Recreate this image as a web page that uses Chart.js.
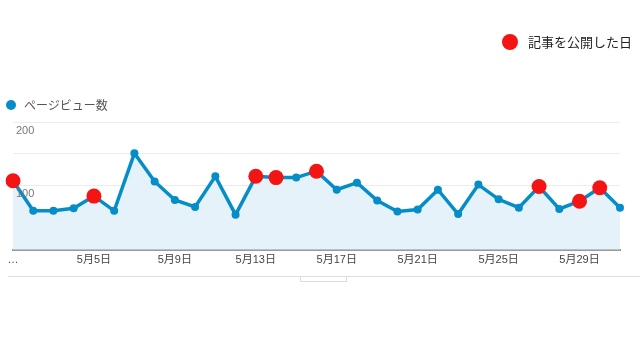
<!DOCTYPE html>
<html>
<head>
<meta charset="utf-8">
<script src="https://cdn.jsdelivr.net/npm/chart.js@4"></script>
<style>
  html, body { margin: 0; padding: 0; background: #fff; }
  #wrap { position: relative; width: 640px; height: 360px; }
  .legend { position: absolute; font-family: Arial, "Liberation Sans", "Noto Sans CJK JP", sans-serif; display: flex; align-items: center; white-space: nowrap; }
  .dot { display: inline-block; border-radius: 50%; }
</style>
</head>
<body>
<div id="wrap">
  <canvas id="pvChart" width="640" height="360"></canvas>
  <div class="legend" style="left:6px; top:96px; font-size:12px; color:#555;">
    <span class="dot" style="width:10px;height:10px;background:#058dc7;margin-right:8px;"></span>ページビュー数
  </div>
  <div class="legend" style="left:502px; top:32px; font-size:13px; color:#222;">
    <span class="dot" style="width:16px;height:16px;background:#f41414;margin-right:10px;"></span>記事を公開した日
  </div>
</div>
<script>
// 5月1日 .. 5月31日
const days = [];
for (let d = 1; d <= 31; d++) days.push('5月' + d + '日');

const pageViews = [108, 61, 61, 65, 84, 61, 151, 107, 78, 67,
                   115, 55, 115, 113, 113, 123, 94, 105, 77, 60,
                   63, 94, 56, 102, 79, 66, 99, 64, 76, 97, 66];

// days an article was published (index into days)
const publishedIdx = [0, 4, 12, 13, 15, 26, 28, 29];

const yLabels = [100, 200];

const published = pageViews.map((v, i) => publishedIdx.includes(i) ? v : null);

// y labels sit just under their grid line, plus the bottom strip
const extras = {
    id: 'extras',
    afterDraw(chart) {
        const ctx = chart.ctx;
        const y = chart.scales.y;
        const area = chart.chartArea;
        ctx.save();
        ctx.font = '11px Arial, "Liberation Sans", sans-serif';
        ctx.fillStyle = '#777';
        ctx.textBaseline = 'top';
        yLabels.forEach(v => {
            ctx.fillText(String(v), area.left + 3, y.getPixelForValue(v) + 3);
        });
        ctx.strokeStyle = '#ddd';
        ctx.lineWidth = 1;
        ctx.beginPath();
        ctx.moveTo(8, 276.5);
        ctx.lineTo(640, 276.5);
        ctx.stroke();
        ctx.strokeRect(300.5, 276.5, 46, 5);
        ctx.restore();
    }
};

const ctx = document.getElementById('pvChart').getContext('2d');
new Chart(ctx, {
    type: 'line',
    data: {
        labels: days,
        datasets: [{
            label: '記事を公開した日',
            data: published,
            showLine: false,
            pointRadius: 7.5,
            pointBackgroundColor: '#f41414',
            pointBorderWidth: 0,
            order: 0
        }, {
            label: 'ページビュー数',
            data: pageViews,
            borderColor: '#058dc7',
            borderWidth: 3.5,
            backgroundColor: '#e5f2f9',
            fill: 'origin',
            pointRadius: 4,
            pointBackgroundColor: '#058dc7',
            pointBorderWidth: 0,
            tension: 0,
            order: 1
        }]
    },
    options: {
        responsive: false,
        animation: false,
        layout: {
            padding: { left: 13, right: 20, top: 122, bottom: 89 }
        },
        plugins: {
            legend: { display: false },
            tooltip: { enabled: false }
        },
        scales: {
            x: {
                offset: false,
                grid: { display: false, drawTicks: false },
                border: { color: '#9a9a9a', width: 2 },
                ticks: {
                    autoSkip: false,
                    maxRotation: 0,
                    padding: 4,
                    color: '#444',
                    font: { size: 11, family: 'Arial, "Liberation Sans", "Noto Sans CJK JP", sans-serif' },
                    callback: function (value, index) {
                        if (index === 0) return '…';
                        return index % 4 === 0 ? days[index] : '';
                    }
                }
            },
            y: {
                min: 0,
                max: 200,
                ticks: { display: false, stepSize: 50 },
                grid: { color: '#ececec', drawTicks: false },
                border: { display: false }
            }
        }
    },
    plugins: [extras]
});
</script>
</body>
</html>
